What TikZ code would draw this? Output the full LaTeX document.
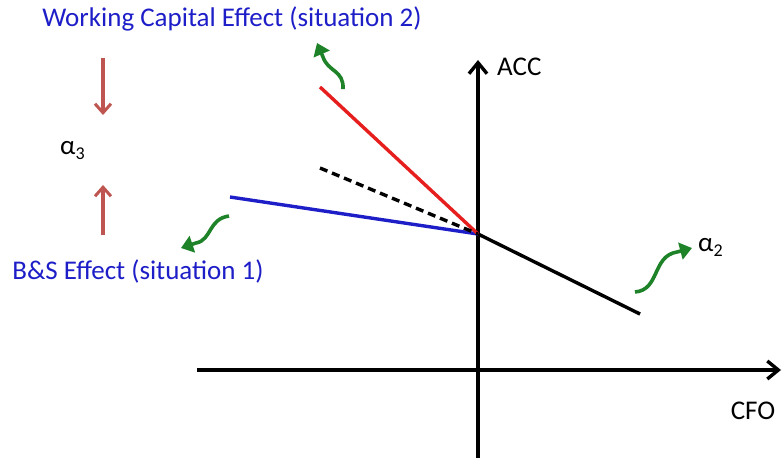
\documentclass[tikz,border=0pt]{standalone}
\usepackage{fontspec}
\setmainfont{Carlito}
\usetikzlibrary{arrows.meta}
\definecolor{lblue}{RGB}{30,30,200}
\definecolor{lred}{RGB}{230,30,30}
\definecolor{lgreen}{RGB}{30,130,40}
\definecolor{dred}{RGB}{190,85,80}
\tikzset{
  axis/.style={line width=3.4pt,-{Straight Barb[length=11pt,width=18pt,line width=3.4pt]}},
  seg/.style={line width=3.4pt},
  garrow/.style={lgreen,line width=3.6pt,-{Triangle[length=12pt,width=17pt]}},
  rarrow/.style={dred,line width=3.2pt,-{Straight Barb[length=9pt,width=16pt,line width=3pt]}},
  lbl/.style={font=\fontsize{27}{30}\selectfont,inner sep=0pt},
}
\newcommand{\grk}[2]{α\raisebox{-5pt}{\fontsize{18}{20}\selectfont #2}}
\begin{document}
\begin{tikzpicture}[x=1pt,y=-1pt]
\useasboundingbox (0,0) rectangle (784,461);
% axes
\coordinate (yb) at (478,458);
\coordinate (yt) at (478,60);
\coordinate (xl) at (197,370);
\coordinate (xr) at (781,370);
\draw[axis] (yb) -- (yt);
\draw[axis] (xl) -- (xr);
\node[lbl,anchor=west] (acc) at (497,67) {ACC};
\node[lbl] (cfo) at (753,411) {CFO};
% lines
\coordinate (o) at (478,234);
\coordinate (bk) at (640,314);
\coordinate (bl) at (230,197);
\coordinate (rd) at (320,87);
\coordinate (ds) at (320,168);
\draw[seg] (o) -- (bk);
\draw[seg,lblue] (bl) -- (o);
\draw[seg,lred] (rd) -- (o);
\draw[seg,dashed,dash pattern=on 8pt off 5pt] (ds) -- (o);
% labels
\node[lbl,lblue] (wc) at (232,19) {Working Capital Effect (situation 2)};
\node[lbl,lblue] (bs) at (138,271) {B\&S Effect (situation 1)};
\node[lbl,anchor=west] (a3) at (60,150) {\grk{a}{3}};
\node[lbl,anchor=west] (a2) at (698,247) {\grk{a}{2}};
% red arrows
\coordinate (r1a) at (103,58);
\coordinate (r1b) at (103,115);
\coordinate (r2a) at (103,235);
\coordinate (r2b) at (103,185);
\draw[rarrow] (r1a) -- (r1b);
\draw[rarrow] (r2a) -- (r2b);
% green arrows
\coordinate (g1a) at (343,89);
\coordinate (g1b) at (317,43);
\draw[garrow] (g1a) .. controls (344,70) and (328,72) .. (323,57) -- (g1b);
\coordinate (g2a) at (229,216);
\coordinate (g2b) at (181,248);
\draw[garrow] (g2a) .. controls (208,219) and (212,240) .. (196,243) -- (g2b);
\coordinate (g3a) at (635,292);
\coordinate (g3b) at (692,248);
\draw[garrow] (g3a) .. controls (660,290) and (652,256) .. (677,252) -- (g3b);
\end{tikzpicture}
\end{document}
